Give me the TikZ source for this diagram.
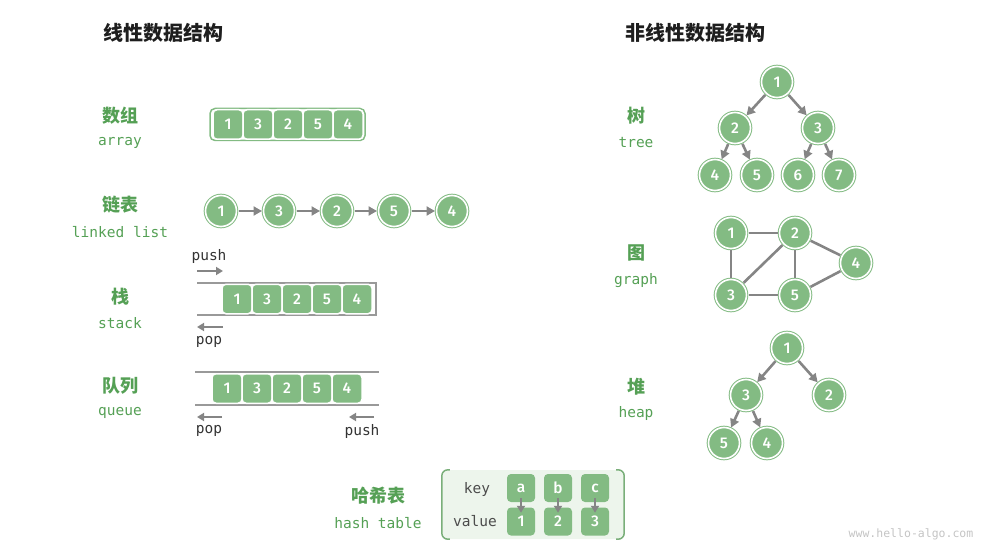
\documentclass[tikz,border=0pt]{standalone}
\usepackage{fontspec}
\setmainfont{Fira Sans}
\setmonofont{DejaVu Sans Mono}
\newfontfamily\cjk{Noto Sans CJK SC}
\newfontfamily\numfont{Fira Sans Medium}
\usetikzlibrary{arrows.meta}
\definecolor{cellgreen}{HTML}{83BB83}
\definecolor{labelgreen}{HTML}{55A055}
\definecolor{titledark}{HTML}{1E1E1E}
\definecolor{arrowgray}{HTML}{858585}
\definecolor{railgray}{HTML}{999999}
\definecolor{hashbg}{HTML}{EDF5EC}
\definecolor{hashline}{HTML}{7AAF7A}
\definecolor{markgray}{HTML}{C4C4C4}

\begin{document}
\begin{tikzpicture}[
    x=1pt, y=-1pt,
    title/.style={font=\cjk\bfseries\fontsize{20}{22}\selectfont, text=titledark},
    cnlabel/.style={font=\cjk\bfseries\fontsize{18}{20}\selectfont, text=labelgreen},
    enlabel/.style={font=\ttfamily\fontsize{14.5}{16}\selectfont, text=labelgreen},
    optext/.style={font=\ttfamily\fontsize{14.5}{16}\selectfont, text=black!80},
    cell/.style={rectangle, rounded corners=4pt, fill=cellgreen, draw=white,
        line width=1.5pt, minimum width=30pt, minimum height=29.5pt, inner sep=0pt,
        text=white, font=\numfont\fontsize{15.5}{18}\selectfont},
    hcell/.style={cell, draw=none, minimum width=28pt, minimum height=28pt},
    vertex/.style={circle, fill=cellgreen, draw=cellgreen, double=white,
        double distance=1.6pt, line width=1pt, minimum size=31pt, inner sep=0pt,
        text=white, font=\numfont\fontsize{15.5}{18}\selectfont},
    arrow/.style={-{Triangle[length=8.5pt,width=9pt]}, line width=2.6pt, draw=arrowgray,
        shorten >=1pt, shorten <=1.5pt},
    oparrow/.style={-{Triangle[length=7pt,width=8pt]}, line width=2.2pt, draw=arrowgray},
    edge/.style={line width=2.6pt, draw=arrowgray, shorten >=1.5pt, shorten <=1.5pt},
    rail/.style={line width=1.2pt, draw=railgray}
]
\useasboundingbox (0,0) rectangle (1004,556);

\node[title] (lintitle) at (163,33) {线性数据结构};
\node[title] (nontitle) at (695,33) {非线性数据结构};

\node[cnlabel] (arrcn) at (120,116) {数组};
\node[enlabel] (arren) at (120,143) {array};
\node[cnlabel] (lstcn) at (120,205) {链表};
\node[enlabel] (lsten) at (120,232) {linked list};
\node[cnlabel] (stkcn) at (120,297) {栈};
\node[enlabel] (stken) at (120,323) {stack};
\node[cnlabel] (quecn) at (120,386) {队列};
\node[enlabel] (queen) at (120,413) {queue};
\node[cnlabel] (hshcn) at (378,496) {哈希表};
\node[enlabel] (hshen) at (378,523) {hash table};
\node[cnlabel] (treecn) at (636,116) {树};
\node[enlabel] (treeen) at (636,143) {tree};
\node[cnlabel] (grfcn) at (636,253) {图};
\node[enlabel] (grfen) at (636,281) {graph};
\node[cnlabel] (heapcn) at (636,387) {堆};
\node[enlabel] (heapen) at (636,413) {heap};

\node[draw=cellgreen, line width=1.5pt, rounded corners=5pt, fill=white,
    minimum width=155pt, minimum height=32pt] (arrbox) at (287.5,124.5) {};
\node[cell] (arr1) at (228,124.5) {1};
\node[cell] (arr2) at (258,124.5) {3};
\node[cell] (arr3) at (288,124.5) {2};
\node[cell] (arr4) at (318,124.5) {5};
\node[cell] (arr5) at (348,124.5) {4};

\node[vertex] (lst1) at (221,211) {1};
\node[vertex] (lst2) at (279,211) {3};
\node[vertex] (lst3) at (337,211) {2};
\node[vertex] (lst4) at (394,211) {5};
\node[vertex] (lst5) at (452,211) {4};
\draw[arrow] (lst1) -- (lst2);
\draw[arrow] (lst2) -- (lst3);
\draw[arrow] (lst3) -- (lst4);
\draw[arrow] (lst4) -- (lst5);

\draw[rail] (197,283) -- (376,283) -- (376,315) -- (197,315);
\node[cell] (stk1) at (237,299) {1};
\node[cell] (stk2) at (267,299) {3};
\node[cell] (stk3) at (297,299) {2};
\node[cell] (stk4) at (327,299) {5};
\node[cell] (stk5) at (357,299) {4};
\node[optext] (stkpush) at (209,256) {push};
\node[optext] (stkpop) at (209,342) {pop};
\coordinate (stkin1) at (197,271);
\coordinate (stkin2) at (223,271);
\coordinate (stkout1) at (223,327);
\coordinate (stkout2) at (197,327);
\draw[oparrow] (stkin1) -- (stkin2);
\draw[oparrow] (stkout1) -- (stkout2);

\draw[rail] (195,372) -- (379,372);
\draw[rail] (195,405) -- (379,405);
\node[cell] (que1) at (227,388.5) {1};
\node[cell] (que2) at (257,388.5) {3};
\node[cell] (que3) at (287,388.5) {2};
\node[cell] (que4) at (317,388.5) {5};
\node[cell] (que5) at (347,388.5) {4};
\node[optext] (quepop) at (209,431) {pop};
\node[optext] (quepush) at (362,431) {push};
\coordinate (queout1) at (222,417);
\coordinate (queout2) at (197,417);
\coordinate (quein1) at (374,417);
\coordinate (quein2) at (349,417);
\draw[oparrow] (queout1) -- (queout2);
\draw[oparrow] (quein1) -- (quein2);

\node[fill=hashbg, rounded corners=6pt, minimum width=182pt, minimum height=69pt] (hbox) at (533,504.5) {};
\draw[hashline, line width=1.5pt, rounded corners=6pt] ([xshift=8pt]hbox.north west) -- (hbox.north west) -- (hbox.south west) -- ([xshift=8pt]hbox.south west);
\draw[hashline, line width=1.5pt, rounded corners=6pt] ([xshift=-8pt]hbox.north east) -- (hbox.north east) -- (hbox.south east) -- ([xshift=-8pt]hbox.south east);
\node[optext, text=black!70] (keytxt) at (477,489) {key};
\node[optext, text=black!70] (valtxt) at (475,521) {value};
\node[hcell] (ka) at (521,488) {a};
\node[hcell] (kb) at (558,488) {b};
\node[hcell] (kc) at (595,488) {c};
\node[hcell] (va) at (521,521.5) {1};
\node[hcell] (vb) at (558,521.5) {2};
\node[hcell] (vc) at (595,521.5) {3};
\draw[oparrow] ([yshift=5pt]ka.south) -- ([yshift=-6pt]va.north);
\draw[oparrow] ([yshift=5pt]kb.south) -- ([yshift=-6pt]vb.north);
\draw[oparrow] ([yshift=5pt]kc.south) -- ([yshift=-6pt]vc.north);

\node[vertex] (tr1) at (777,82) {1};
\node[vertex] (tr2) at (735,128) {2};
\node[vertex] (tr3) at (818,128) {3};
\node[vertex] (tr4) at (715,175) {4};
\node[vertex] (tr5) at (757,175) {5};
\node[vertex] (tr6) at (798,175) {6};
\node[vertex] (tr7) at (839,175) {7};
\draw[arrow] (tr1) -- (tr2);
\draw[arrow] (tr1) -- (tr3);
\draw[arrow] (tr2) -- (tr4);
\draw[arrow] (tr2) -- (tr5);
\draw[arrow] (tr3) -- (tr6);
\draw[arrow] (tr3) -- (tr7);

\node[vertex] (gr1) at (731,233) {1};
\node[vertex] (gr2) at (795,233) {2};
\node[vertex] (gr4) at (856,263) {4};
\node[vertex] (gr3) at (731,295) {3};
\node[vertex] (gr5) at (795,295) {5};
\draw[edge] (gr1) -- (gr2);
\draw[edge] (gr1) -- (gr3);
\draw[edge] (gr2) -- (gr3);
\draw[edge] (gr2) -- (gr5);
\draw[edge] (gr2) -- (gr4);
\draw[edge] (gr3) -- (gr5);
\draw[edge] (gr5) -- (gr4);

\node[vertex] (hp1) at (787,348) {1};
\node[vertex] (hp3) at (746,395) {3};
\node[vertex] (hp2) at (829,395) {2};
\node[vertex] (hp5) at (724,443) {5};
\node[vertex] (hp4) at (767,443) {4};
\draw[arrow] (hp1) -- (hp3);
\draw[arrow] (hp1) -- (hp2);
\draw[arrow] (hp3) -- (hp5);
\draw[arrow] (hp3) -- (hp4);

\node[font=\ttfamily\fontsize{11.5}{12}\selectfont, text=markgray] (mark) at (911,534) {www.hello-algo.com};
\end{tikzpicture}
\end{document}
